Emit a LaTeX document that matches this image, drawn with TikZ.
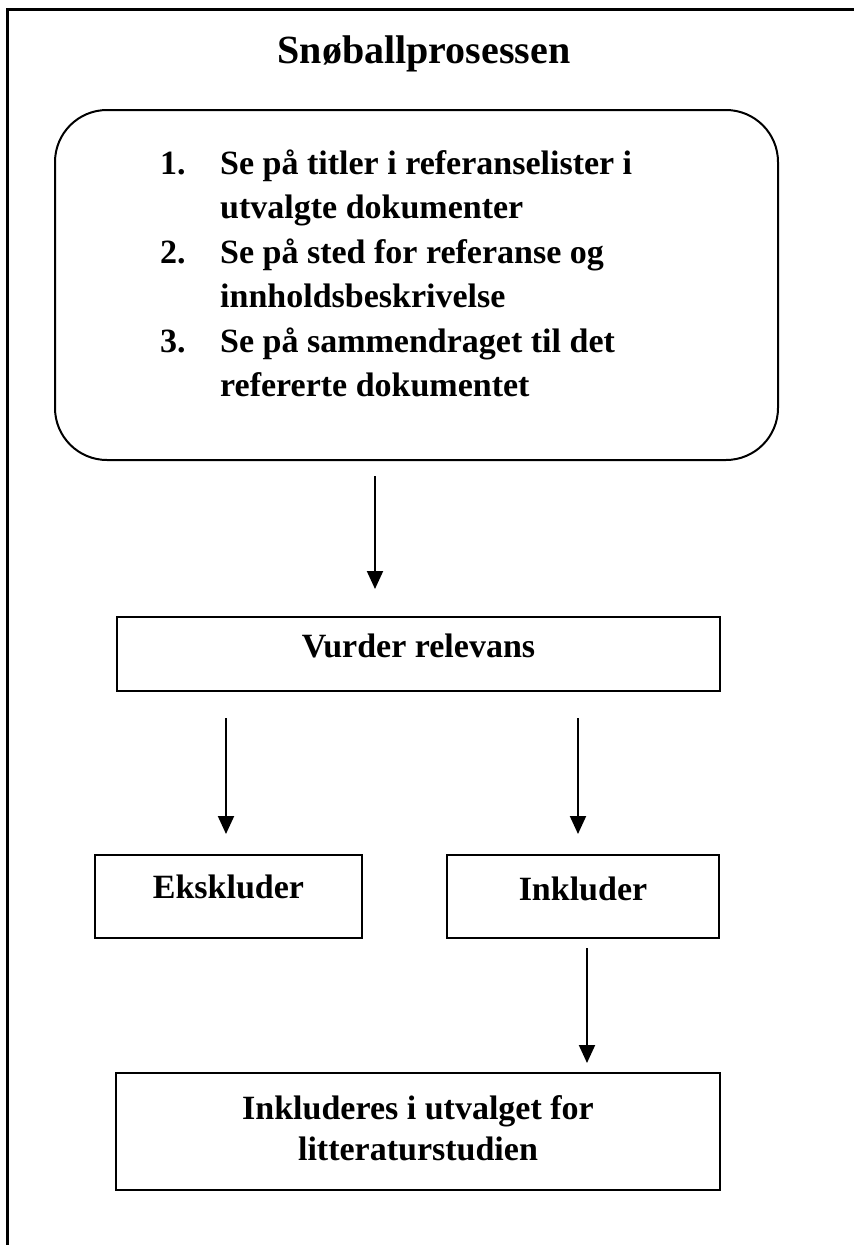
\documentclass[tikz,border=0pt]{standalone}
\usepackage{fontspec}
\setmainfont{Liberation Serif}
\usetikzlibrary{arrows.meta}
\begin{document}
\begin{tikzpicture}[x=1pt,y=1pt,
  box/.style={draw,line width=2pt,inner sep=0pt,align=center,font=\fontsize{34}{41}\selectfont\bfseries},
  arr/.style={line width=2pt,-{Triangle[width=16pt,length=18pt]}}]
\useasboundingbox (0,0) rectangle (854,-1245);
\draw[line width=3pt] (7.5,-1245) -- (7.5,-9.5) -- (854,-9.5);
\node[font=\fontsize{40}{48}\selectfont\bfseries,anchor=base,inner sep=0pt] (title) at (424,-63) {Snøballprosessen};
\node[draw,line width=2pt,rounded corners=52pt,minimum width=723pt,minimum height=350pt,inner sep=0pt] (rbox) at (416.5,-285) {};
\node[anchor=base west,inner sep=0pt,font=\fontsize{34}{44.5}\selectfont\bfseries] (list) at (160,-174)
 {\begin{tabular}[t]{@{}p{60pt}@{}l@{}}
 1. & Se på titler i referanselister i\\
    & utvalgte dokumenter\\
 2. & Se på sted for referanse og\\
    & innholdsbeskrivelse\\
 3. & Se på sammendraget til det\\
    & refererte dokumentet
 \end{tabular}};
\node[box,minimum width=603pt,minimum height=74pt,text height=23pt,text depth=17pt] (vurder) at (418.5,-654) {Vurder relevans};
\node[box,minimum width=267pt,minimum height=83pt,text height=23pt,text depth=20pt] (eks) at (228.5,-896.5) {Ekskluder};
\node[box,minimum width=272pt,minimum height=83pt,text height=23pt,text depth=15pt] (ink) at (583,-896.5) {Inkluder};
\node[box,minimum width=604pt,minimum height=117pt] (final) at (418,-1131.5) {\raisebox{3pt}{\begin{tabular}{@{}c@{}}Inkluderes i utvalget for\\litteraturstudien\end{tabular}}};
\draw[arr,shorten <=15pt,shorten >=27pt] ([xshift=-41.5pt]rbox.south) -- ([xshift=-41.5pt]rbox.south |- vurder.north);
\draw[arr,shorten <=26pt,shorten >=20pt] ([xshift=-2.5pt]eks.north |- vurder.south) -- ([xshift=-2.5pt]eks.north);
\draw[arr,shorten <=26pt,shorten >=20pt] ([xshift=-5pt]ink.north |- vurder.south) -- ([xshift=-5pt]ink.north);
\draw[arr,shorten <=9pt,shorten >=9pt] ([xshift=4pt]ink.south) -- ([xshift=4pt]ink.south |- final.north);
\end{tikzpicture}
\end{document}
